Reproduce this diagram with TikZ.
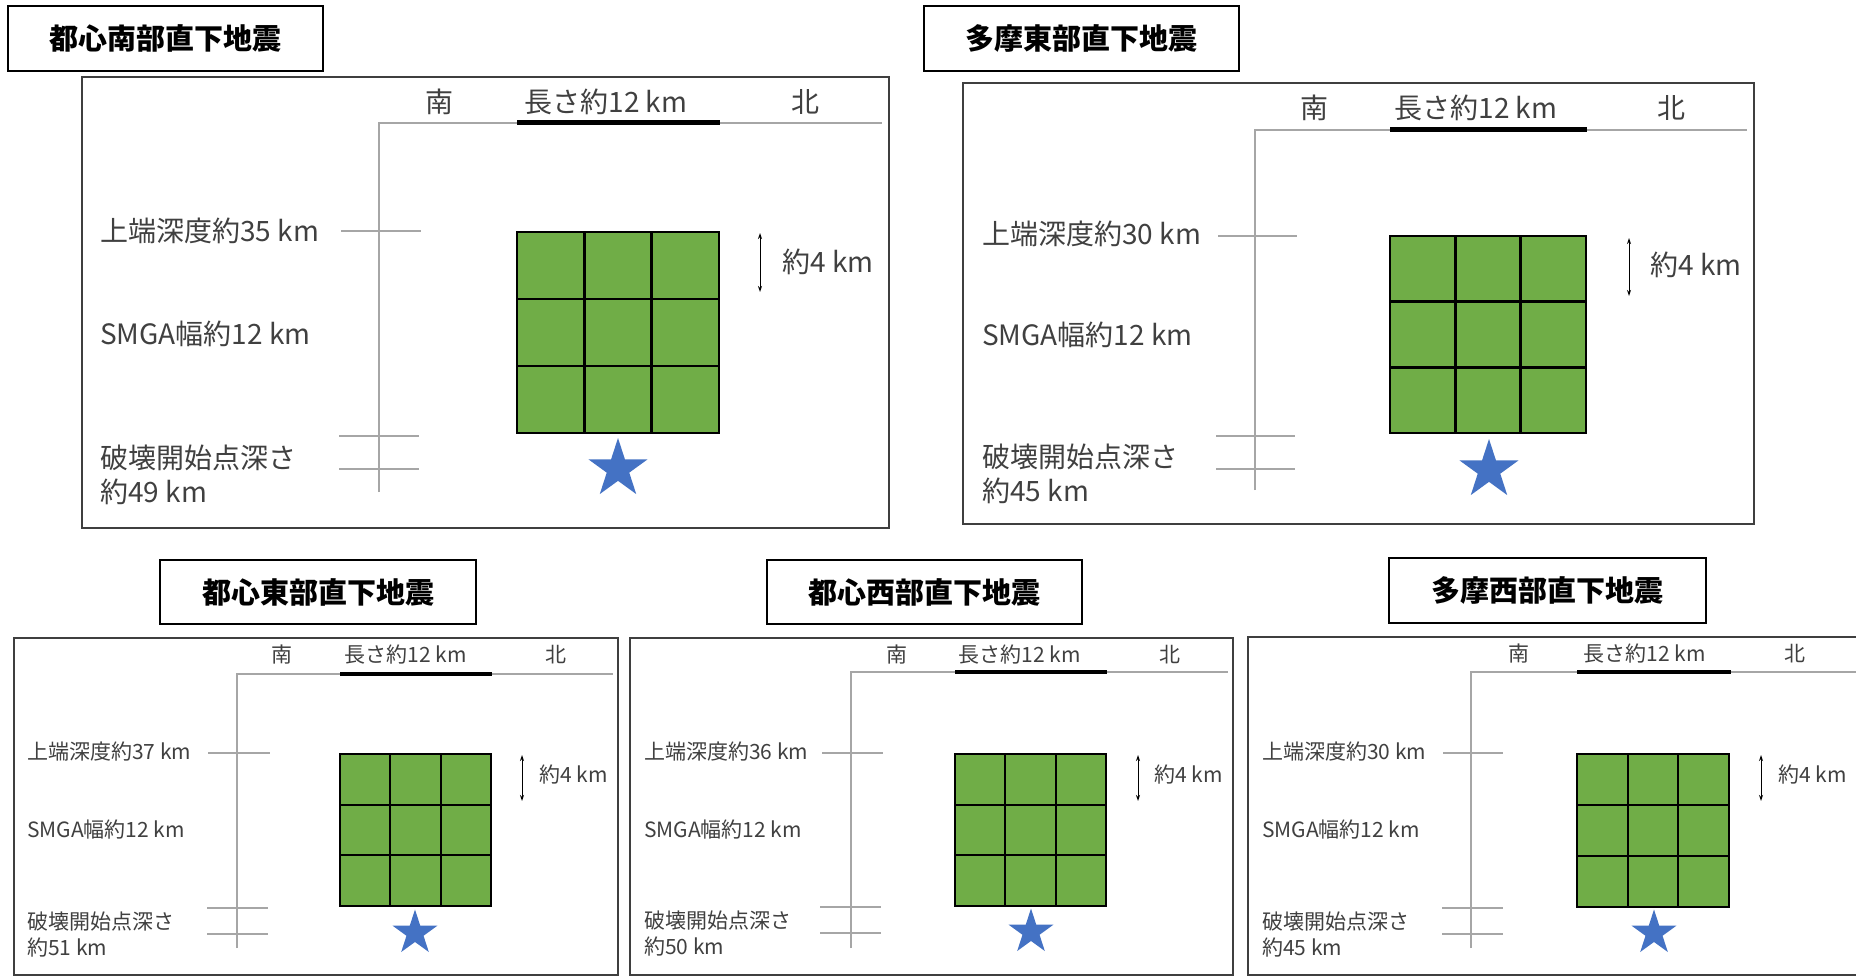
\documentclass[tikz,border=0pt]{standalone}
\usepackage{fontspec}
\setmainfont{Noto Sans CJK JP}
\usetikzlibrary{shapes.geometric,arrows.meta}
\definecolor{smgagreen}{HTML}{70AD47}
\definecolor{starblue}{HTML}{4472C4}
\definecolor{labelgray}{HTML}{404040}
\definecolor{axisgray}{HTML}{A6A6A6}
\definecolor{boxgray}{HTML}{3F3F3F}
\tikzset{
  titlebox/.style={draw=black, line width=2pt, inner sep=0, font=\bfseries\fontsize{29}{32}\selectfont},
  panelbox/.style={draw=boxgray, line width=2pt},
  axisline/.style={draw=axisgray, line width=1.4pt},
  lenbar/.style={draw=black, line width=#1},
  smgaline/.style={draw=black, line width=#1},
  bigtxt/.style={font=\fontsize{28}{34}\selectfont, text=labelgray, inner sep=0},
  smalltxt/.style={font=\fontsize{21}{26}\selectfont, text=labelgray, inner sep=0},
  dimarrow/.style={draw=black, line width=1pt, {Stealth[length=6pt,width=4pt]}-{Stealth[length=6pt,width=4pt]}},
  hypo/.style={star, star points=5, star point ratio=2.618, fill=starblue, draw=none, inner sep=0, minimum size=#1},
}
\newcommand\smgagrid[5]{%
  \fill[smgagreen] (#1,#2) rectangle (#3,#4);
  \foreach \k in {1,2}{%
    \draw[smgaline=#5] ({#1+\k*(#3-#1)/3},#2) -- ({#1+\k*(#3-#1)/3},#4);
    \draw[smgaline=#5] (#1,{#2+\k*(#4-#2)/3}) -- (#3,{#2+\k*(#4-#2)/3});
  }
  \draw[smgaline=#5] (#1,#2) rectangle (#3,#4);
}
\begin{document}
\begin{tikzpicture}[x=1pt,y=-1pt]
\useasboundingbox (0,0) rectangle (1856,976);
\fill[white] (0,0) rectangle (1856,976);

% ===== Panel 1: 都心南部直下地震 =====
\node[titlebox, minimum width=315pt, minimum height=65pt] (t1) at (165.5,38.5) {都心南部直下地震};
\draw[panelbox] (82,77) rectangle (889,528);
\coordinate (a1o) at (379,123);
\coordinate (a1r) at (882,123);
\coordinate (a1b) at (379,492);
\draw[axisline] (a1b) -- (a1o) -- (a1r);
\draw[lenbar=5pt] (517,123) -- (720,123);
\node[bigtxt] (s1) at (439,102) {南};
\node[bigtxt] (l1) at (606,102) {長さ約12 km};
\node[bigtxt] (n1) at (805,102) {北};
\smgagrid{517}{232}{719}{433}{2.5pt}
\draw[axisline] (341,231) -- (421,231);
\draw[axisline] (339,436) -- (419,436);
\draw[axisline] (339,469) -- (419,469);
\node[bigtxt, anchor=west] (d1) at (100,231) {上端深度約35 km};
\node[bigtxt, anchor=west] (w1) at (100,334) {SMGA幅約12 km};
\node[bigtxt, anchor=west, align=left] (h1) at (100,475) {破壊開始点深さ\\約49 km};
\coordinate (r1t) at (760,233);
\coordinate (r1b) at (760,292);
\draw[dimarrow] (r1t) -- (r1b);
\node[bigtxt, anchor=west] (c1) at (782,262) {約4 km};
\node[hypo=62pt] (st1) at (618,469) {};

% ===== Panel 2: 多摩東部直下地震 =====
\node[titlebox, minimum width=315pt, minimum height=65pt] (t2) at (1081.5,38.5) {多摩東部直下地震};
\draw[panelbox] (963,83) rectangle (1754,524);
\coordinate (a2o) at (1255,130);
\coordinate (a2r) at (1747,130);
\coordinate (a2b) at (1255,490);
\draw[axisline] (a2b) -- (a2o) -- (a2r);
\draw[lenbar=5pt] (1390,130) -- (1587,130);
\node[bigtxt] (s2) at (1314,108) {南};
\node[bigtxt] (l2) at (1476,108) {長さ約12 km};
\node[bigtxt] (n2) at (1671,108) {北};
\smgagrid{1390}{236}{1586}{433}{2.5pt}
\draw[axisline] (1218,236) -- (1297,236);
\draw[axisline] (1216,436) -- (1295,436);
\draw[axisline] (1216,469) -- (1295,469);
\node[bigtxt, anchor=west] (d2) at (982,234) {上端深度約30 km};
\node[bigtxt, anchor=west] (w2) at (982,335) {SMGA幅約12 km};
\node[bigtxt, anchor=west, align=left] (h2) at (982,474) {破壊開始点深さ\\約45 km};
\coordinate (r2t) at (1629,238);
\coordinate (r2b) at (1629,296);
\draw[dimarrow] (r2t) -- (r2b);
\node[bigtxt, anchor=west] (c2) at (1650,265) {約4 km};
\node[hypo=62pt] (st2) at (1489,470) {};

% ===== Panel 3: 都心東部直下地震 =====
\node[titlebox, minimum width=316pt, minimum height=64pt] (t3) at (318,592) {都心東部直下地震};
\draw[panelbox] (14,638) rectangle (618,975);
\coordinate (a3o) at (237,674);
\coordinate (a3r) at (613,674);
\coordinate (a3b) at (237,948);
\draw[axisline] (a3b) -- (a3o) -- (a3r);
\draw[lenbar=4pt] (340,674) -- (492,674);
\node[smalltxt] (s3) at (282,655) {南};
\node[smalltxt] (l3) at (406,655) {長さ約12 km};
\node[smalltxt] (n3) at (556,655) {北};
\smgagrid{340}{754}{491}{906}{2pt}
\draw[axisline] (208,753) -- (270,753);
\draw[axisline] (207,908) -- (268,908);
\draw[axisline] (207,934) -- (268,934);
\node[smalltxt, anchor=west] (d3) at (27,752) {上端深度約37 km};
\node[smalltxt, anchor=west] (w3) at (27,830) {SMGA幅約12 km};
\node[smalltxt, anchor=west, align=left] (h3) at (27,935) {破壊開始点深さ\\約51 km};
\coordinate (r3t) at (522,755);
\coordinate (r3b) at (522,801);
\draw[dimarrow] (r3t) -- (r3b);
\node[smalltxt, anchor=west] (c3) at (539,775) {約4 km};
\node[hypo=47pt] (st3) at (415,933) {};

% ===== Panel 4: 都心西部直下地震 =====
\node[titlebox, minimum width=315pt, minimum height=64pt] (t4) at (924.5,592) {都心西部直下地震};
\draw[panelbox] (630,638) rectangle (1233,975);
\coordinate (a4o) at (851,672);
\coordinate (a4r) at (1228,672);
\coordinate (a4b) at (851,948);
\draw[axisline] (a4b) -- (a4o) -- (a4r);
\draw[lenbar=4pt] (955,672) -- (1107,672);
\node[smalltxt] (s4) at (897,655) {南};
\node[smalltxt] (l4) at (1020,655) {長さ約12 km};
\node[smalltxt] (n4) at (1170,655) {北};
\smgagrid{955}{754}{1106}{906}{2pt}
\draw[axisline] (822,753) -- (883,753);
\draw[axisline] (820,907) -- (881,907);
\draw[axisline] (820,933) -- (881,933);
\node[smalltxt, anchor=west] (d4) at (644,752) {上端深度約36 km};
\node[smalltxt, anchor=west] (w4) at (644,830) {SMGA幅約12 km};
\node[smalltxt, anchor=west, align=left] (h4) at (644,934) {破壊開始点深さ\\約50 km};
\coordinate (r4t) at (1138,755);
\coordinate (r4b) at (1138,801);
\draw[dimarrow] (r4t) -- (r4b);
\node[smalltxt, anchor=west] (c4) at (1154,775) {約4 km};
\node[hypo=47pt] (st4) at (1031,932) {};

% ===== Panel 5: 多摩西部直下地震 =====
\node[titlebox, minimum width=317pt, minimum height=65pt] (t5) at (1547.5,590.5) {多摩西部直下地震};
\draw[panelbox] (1248,637) rectangle (1862,975);
\coordinate (a5o) at (1471,672);
\coordinate (a5r) at (1856,672);
\coordinate (a5b) at (1471,948);
\draw[axisline] (a5b) -- (a5o) -- (a5r);
\draw[lenbar=4pt] (1577,672) -- (1731,672);
\node[smalltxt] (s5) at (1519,654) {南};
\node[smalltxt] (l5) at (1645,654) {長さ約12 km};
\node[smalltxt] (n5) at (1795,654) {北};
\smgagrid{1577}{754}{1729}{907}{2pt}
\draw[axisline] (1443,753) -- (1503,753);
\draw[axisline] (1442,908) -- (1503,908);
\draw[axisline] (1442,934) -- (1503,934);
\node[smalltxt, anchor=west] (d5) at (1262,752) {上端深度約30 km};
\node[smalltxt, anchor=west] (w5) at (1262,830) {SMGA幅約12 km};
\node[smalltxt, anchor=west, align=left] (h5) at (1262,935) {破壊開始点深さ\\約45 km};
\coordinate (r5t) at (1761,755);
\coordinate (r5b) at (1761,801);
\draw[dimarrow] (r5t) -- (r5b);
\node[smalltxt, anchor=west] (c5) at (1778,775) {約4 km};
\node[hypo=47pt] (st5) at (1654,933) {};
\end{tikzpicture}
\end{document}
